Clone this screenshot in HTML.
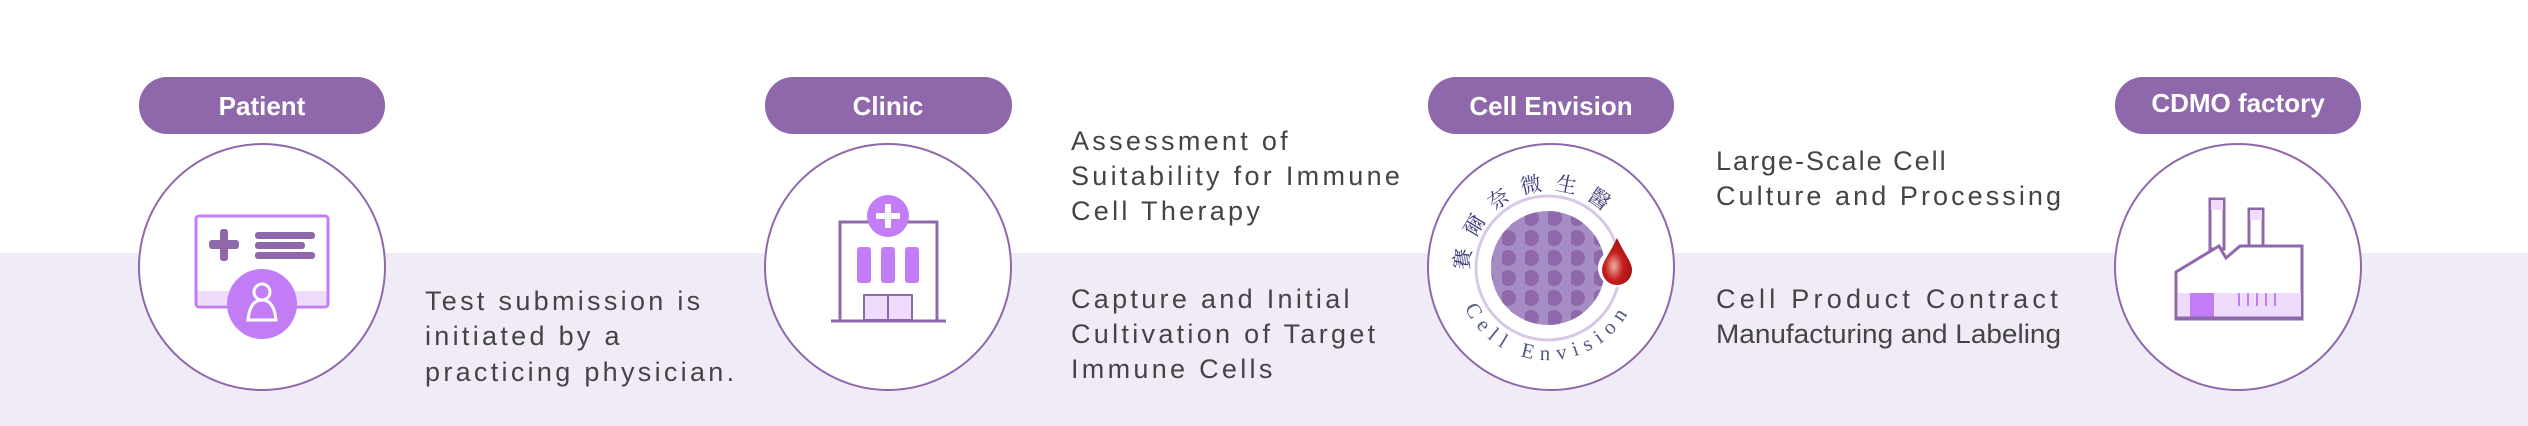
<!DOCTYPE html>
<html><head><meta charset="utf-8"><style>
html,body{margin:0;padding:0;width:2528px;height:426px;overflow:hidden;background:#fff}
svg{display:block}
.t{font-family:"Liberation Sans","DejaVu Sans",sans-serif;font-size:27px;fill:#444;letter-spacing:3.3px}
.p{font-family:"Liberation Sans",sans-serif;font-weight:bold;font-size:26px;fill:#fff}
</style></head><body>
<svg width="2528" height="426" viewBox="0 0 2528 426" xmlns="http://www.w3.org/2000/svg">
<defs>
<clipPath id="dc"><circle cx="1548" cy="268" r="57"/></clipPath>
<pattern id="dots" x="1548" y="268" width="23" height="20" patternUnits="userSpaceOnUse">
<circle cx="6" cy="10" r="8" fill="#8e68ab"/>
</pattern>
<path id="arcTop" d="M1473,295 A80,80 0 0 1 1617,228"/>
<path id="arcBot" d="M1457,284 A92,92 0 0 0 1634,300"/>
<radialGradient id="drop" cx="0.4" cy="0.6" r="0.6"><stop offset="0" stop-color="#f0b0a0"/><stop offset="0.5" stop-color="#c42020"/><stop offset="1" stop-color="#a51010"/></radialGradient>
</defs>
<rect x="0" y="253" width="2528" height="173" fill="#f1ebf8"/>
<g fill="#8e68ab">
<rect x="139" y="77" width="246" height="57" rx="28"/>
<rect x="765" y="77" width="247" height="57" rx="28"/>
<rect x="1428" y="77" width="246" height="57" rx="28"/>
<rect x="2115" y="77" width="246" height="57" rx="28"/>
</g>
<text class="p" x="262" y="115" text-anchor="middle">Patient</text>
<text class="p" x="888" y="115" text-anchor="middle">Clinic</text>
<text class="p" x="1551" y="115" text-anchor="middle">Cell Envision</text>
<text class="p" x="2238" y="112" text-anchor="middle">CDMO factory</text>
<g fill="#fff" stroke="#8e68ab" stroke-width="2">
<circle cx="262" cy="267" r="123"/>
<circle cx="888" cy="267" r="123"/>
<circle cx="1551" cy="267" r="123"/>
<circle cx="2238" cy="267" r="123"/>
</g>
<!-- patient icon -->
<rect x="196" y="216" width="132" height="91" rx="3" fill="#fff" stroke="#c27cf6" stroke-width="3"/>
<rect x="197.5" y="291" width="129" height="14" fill="#efdcfd"/>
<g fill="#8e68ab"><rect x="220" y="229" width="8" height="32" rx="3"/><rect x="209" y="240" width="30" height="9" rx="3"/>
<rect x="255" y="232" width="60" height="7" rx="3"/><rect x="255" y="242" width="50" height="7" rx="3"/><rect x="255" y="252" width="60" height="7" rx="3"/></g>
<circle cx="262" cy="304" r="35" fill="#c27cf6"/>
<circle cx="262" cy="292" r="8" fill="none" stroke="#fff" stroke-width="3"/>
<path d="M248,320 Q250,300 262,300 Q274,300 276,320 Z" fill="none" stroke="#fff" stroke-width="3"/>
<!-- clinic icon -->
<path d="M840,320 V222 H937 V320" fill="none" stroke="#8e68ab" stroke-width="3"/>
<line x1="831" y1="321" x2="946" y2="321" stroke="#8e68ab" stroke-width="3"/>
<circle cx="888" cy="216" r="21" fill="#c27cf6"/>
<rect x="885" y="204" width="6" height="24" fill="#fff"/><rect x="876" y="213" width="24" height="6" fill="#fff"/>
<g fill="#c27cf6"><rect x="857" y="247" width="14" height="36" rx="3"/><rect x="881" y="247" width="14" height="36" rx="3"/><rect x="905" y="247" width="14" height="36" rx="3"/></g>
<rect x="864" y="295" width="48" height="25" fill="#efdcfd" stroke="#8e68ab" stroke-width="2"/>
<line x1="888" y1="295" x2="888" y2="320" stroke="#8e68ab" stroke-width="2"/>
<!-- cell envision logo -->
<circle cx="1548" cy="268" r="72" fill="none" stroke="#d8c8e6" stroke-width="3"/>
<circle cx="1548" cy="268" r="57" fill="#a68cc4"/>
<rect x="1480" y="200" width="140" height="140" fill="url(#dots)" clip-path="url(#dc)"/>
<circle cx="1617" cy="268" r="19" fill="#fff"/>
<path d="M1617,238 C1625,255 1632,262 1632,270 A15,15 0 0 1 1602,270 C1602,262 1609,255 1617,238 Z" fill="url(#drop)"/>
<text font-family="'Noto Serif CJK SC','Noto Sans CJK TC',serif" font-size="21" fill="#3d3a7a"><textPath href="#arcTop" startOffset="25" textLength="185" lengthAdjust="spacing">賽爾奈微生醫</textPath></text>
<text font-family="'Liberation Serif',serif" font-size="21" fill="#555a80"><textPath href="#arcBot" startOffset="25" textLength="200" lengthAdjust="spacing">Cell Envision</textPath></text>
<!-- factory icon -->
<g stroke="#8e68ab" stroke-width="3" fill="#fff">
<rect x="2210" y="199" width="14" height="50"/>
<rect x="2249" y="209" width="14" height="40"/>
</g>
<rect x="2211" y="200" width="12" height="10" fill="#efdcfd"/><rect x="2250" y="210" width="12" height="10" fill="#efdcfd"/>
<path d="M2176,319 V272 L2219,246 L2226,258 L2240,246 H2302 V319 Z" fill="#fff" stroke="#8e68ab" stroke-width="3"/>
<rect x="2178" y="293" width="123" height="24" fill="#efdcfd"/>
<rect x="2190" y="293" width="24" height="24" fill="#c27cf6"/>
<g stroke="#c27cf6" stroke-width="2"><line x1="2239" y1="293" x2="2239" y2="306"/><line x1="2248" y1="293" x2="2248" y2="306"/><line x1="2257" y1="293" x2="2257" y2="306"/><line x1="2266" y1="293" x2="2266" y2="306"/><line x1="2275" y1="293" x2="2275" y2="306"/></g>
<line x1="2176" y1="318" x2="2302" y2="318" stroke="#8e68ab" stroke-width="3"/>
<!-- texts -->
<g class="t">
<text x="425" y="310">Test submission is</text>
<text x="425" y="345">initiated by a</text>
<text x="425" y="381">practicing physician.</text>
<text x="1071" y="150">Assessment of</text>
<text x="1071" y="185">Suitability for Immune</text>
<text x="1071" y="220">Cell Therapy</text>
<text x="1071" y="308">Capture and Initial</text>
<text x="1071" y="343">Cultivation of Target</text>
<text x="1071" y="378">Immune Cells</text>
<text x="1716" y="170" style="letter-spacing:2px">Large-Scale Cell</text>
<text x="1716" y="205" textLength="345" lengthAdjust="spacing" style="letter-spacing:0">Culture and Processing</text>
<text x="1716" y="308" textLength="345" lengthAdjust="spacing">Cell Product Contract</text>
<text x="1716" y="343" textLength="345" lengthAdjust="spacingAndGlyphs" style="letter-spacing:0">Manufacturing and Labeling</text>
</g>
</svg>
</body></html>
